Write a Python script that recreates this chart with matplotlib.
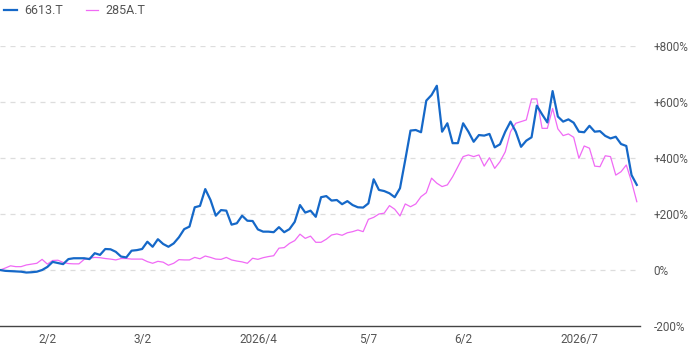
import matplotlib
matplotlib.use("Agg")
import matplotlib.pyplot as plt
import pandas as pd

plt.rcParams["font.family"] = ["Roboto", "DejaVu Sans"]

# cumulative return (%) per trading day, starting 2026-01-20
s6613 = [0, -3, -4, -5, -6, -9, -8, -6, 0, 11,
         29, 25, 21, 39, 42, 42, 42, 39, 60, 54,
         75, 74, 65, 48, 45, 69, 71, 75, 101, 83,
         110, 93, 83, 95, 117, 146, 155, 224, 229, 289,
         250, 194, 214, 212, 162, 167, 194, 176, 175, 145,
         137, 137, 135, 153, 135, 146, 172, 232, 205, 212,
         190, 260, 264, 248, 250, 235, 246, 232, 224, 223,
         238, 324, 286, 282, 274, 260, 292, 393, 498, 500,
         492, 605, 625, 658, 494, 524, 453, 453, 524, 494,
         458, 482, 480, 486, 438, 449, 494, 530, 494, 440,
         462, 474, 587, 556, 527, 639, 548, 530, 538, 526,
         494, 492, 515, 494, 496, 479, 470, 476, 450, 443,
         339, 304]
s285a = [0, 7, 15, 12, 12, 18, 21, 24, 38, 21,
         34, 35, 27, 23, 22, 22, 38, 42, 45, 44,
         41, 39, 36, 41, 41, 39, 39, 39, 30, 24,
         31, 28, 17, 24, 37, 36, 36, 45, 40, 50,
         45, 39, 38, 45, 36, 32, 29, 24, 42, 38,
         44, 48, 51, 78, 80, 95, 105, 128, 113, 121,
         99, 99, 110, 125, 129, 124, 133, 137, 143, 137,
         181, 188, 200, 203, 230, 217, 193, 236, 226, 236,
         262, 276, 328, 310, 298, 304, 333, 369, 405, 411,
         405, 411, 371, 401, 363, 387, 422, 494, 524, 530,
         536, 611, 611, 506, 506, 577, 504, 480, 486, 474,
         399, 443, 435, 371, 369, 408, 405, 339, 351, 375,
         315, 244]

holidays = pd.to_datetime(["2026-02-11", "2026-02-23", "2026-03-20",
                           "2026-04-29", "2026-05-04", "2026-05-05", "2026-05-06"])
tick_dates = pd.to_datetime(["2026-02-02", "2026-03-02", "2026-04-02",
                             "2026-05-07", "2026-06-02", "2026-07-02"])
tick_labels = ["2/2", "3/2", "2026/4", "5/7", "6/2", "2026/7"]
y_ticks = [-200, 0, 200, 400, 600, 800]

days = [d for d in pd.bdate_range("2026-01-20", "2026-08-31") if d not in holidays]
days = pd.DatetimeIndex(days[:len(s6613)])
x = list(range(len(days)))

fig = plt.figure(figsize=(6.9, 3.47), dpi=100)
ax = fig.add_axes([0.0, 0.0605, 0.9275, 0.8069])

ax.plot(x, s6613, color="#1568c8", lw=1.6, label="6613.T", zorder=3)
ax.plot(x, s285a, color="#f06af5", lw=0.9, label="285A.T", zorder=2)

ax.set_xlim(0, len(x) - 1 + 0.6)
ax.set_ylim(-200, 800)

ax.set_xticks([days.get_loc(d) for d in tick_dates])
ax.set_xticklabels(tick_labels)
ax.set_yticks(y_ticks)
ax.set_yticklabels([f"{v}%" if v <= 0 else f"+{v}%" for v in y_ticks])
ax.yaxis.tick_right()
ax.tick_params(axis="both", length=0, labelsize=8.5, colors="#555555")
ax.tick_params(axis="y", pad=10)
ax.tick_params(axis="x", pad=5)

for v in y_ticks[1:]:
    ax.axhline(v, color="#dddddd", lw=0.9, ls=(0, (4, 4)), zorder=1)

for side in ["top", "right", "left"]:
    ax.spines[side].set_visible(False)
ax.spines["bottom"].set_color("#444444")
ax.spines["bottom"].set_linewidth(1.0)

fig.legend(loc="upper left", bbox_to_anchor=(-0.01, 1.02), ncol=2, frameon=False,
           fontsize=9, handlelength=1.0, handletextpad=0.6, columnspacing=1.8,
           labelcolor="#555555")

fig.savefig("out.png", dpi=100)
